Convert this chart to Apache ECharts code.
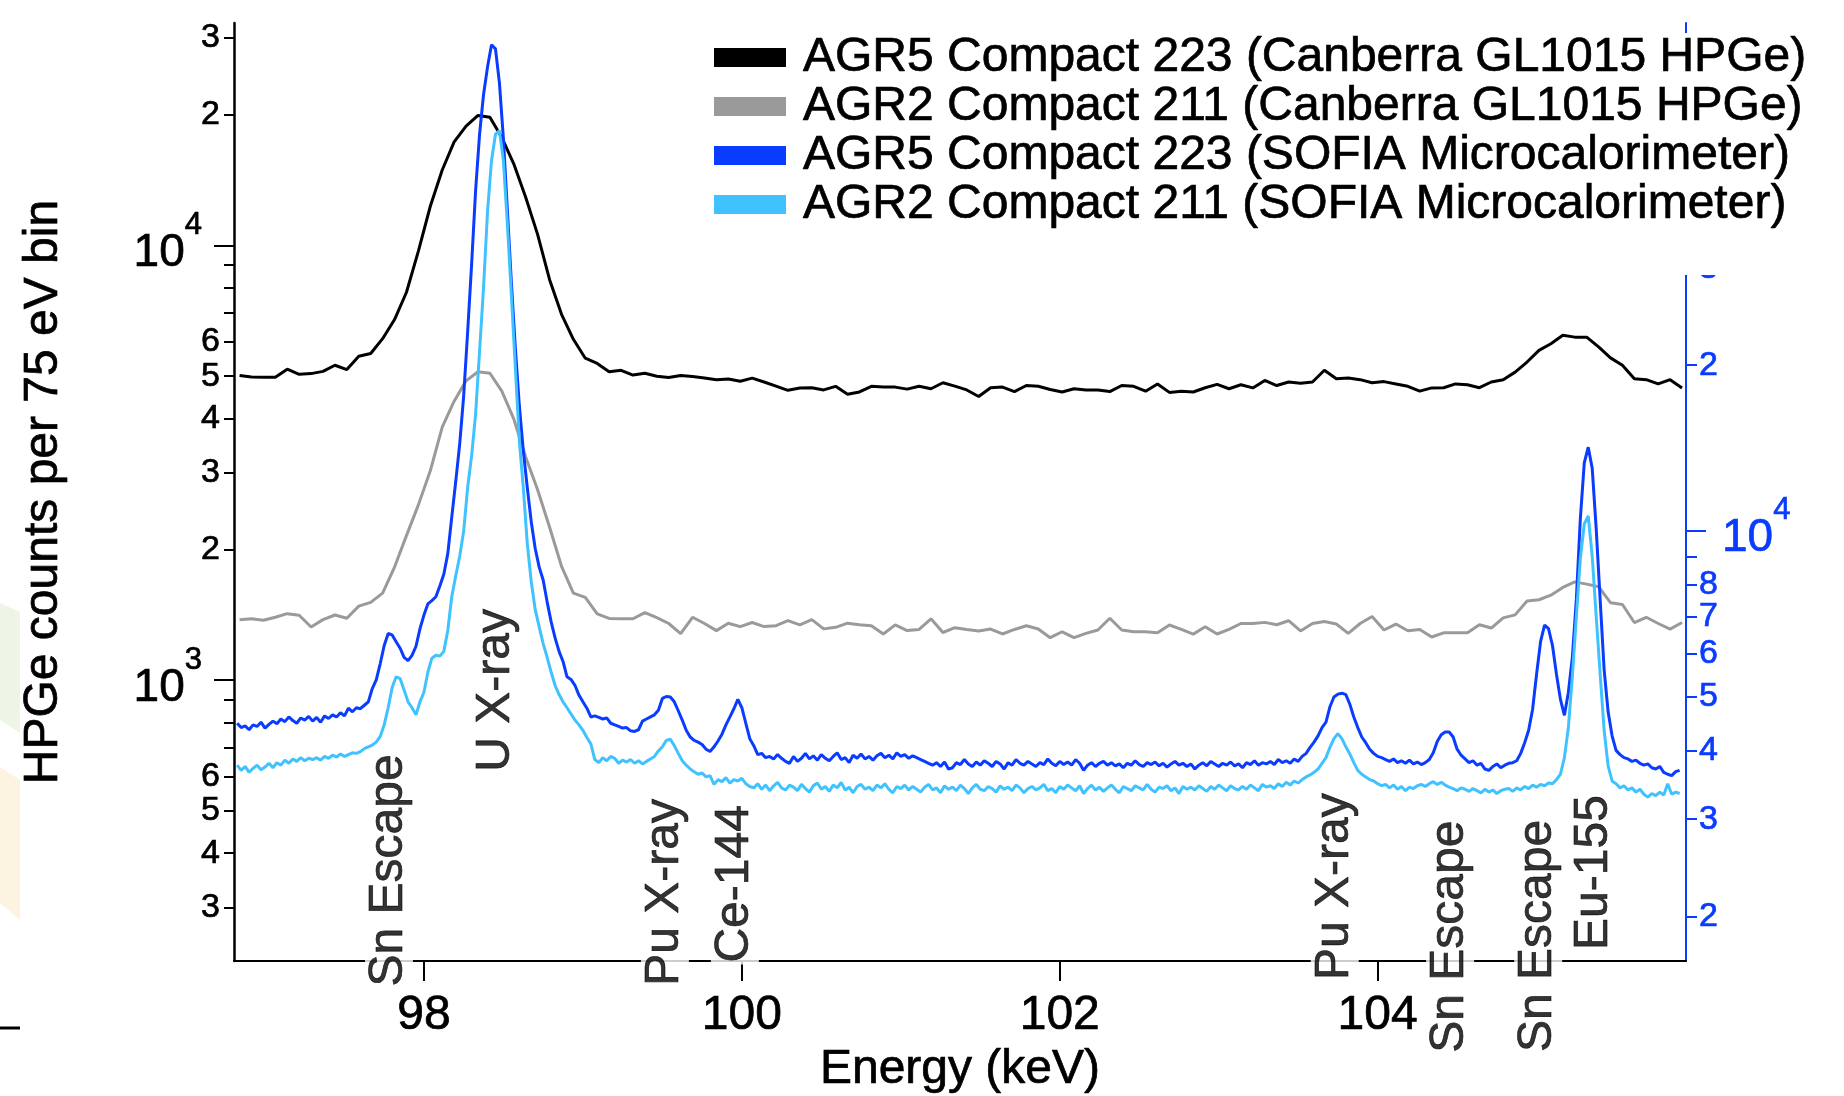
<!DOCTYPE html>
<html><head><meta charset="utf-8">
<script src="https://cdn.jsdelivr.net/npm/echarts@6/dist/echarts.min.js"></script>
<style>html,body{margin:0;padding:0;background:#fff}#c{width:1844px;height:1096px}</style>
</head><body><div id="c"></div>
<script>
const FONT = '"Liberation Sans", Arial, Helvetica, sans-serif';

// HPGe spectra: 75 eV bins
const hpgeStart = 96.84, hpgeStep = 0.075;
const agr5Hpge = [
 5020,4980,4975,4975,5190,5050,5070,5130,5300,5180,
 5560,5640,6100,6750,7800,9700,12300,14900,17300,18800,
 19900,19700,17700,15400,12900,10600,8350,6950,6080,5500,
 5350,5120,5160,5030,5080,5000,4965,5020,4990,4955,
 4910,4925,4870,4950,4850,4745,4640,4700,4705,4650,
 4740,4545,4600,4740,4720,4720,4670,4740,4680,4830,
 4745,4650,4490,4705,4720,4610,4760,4740,4660,4600,
 4680,4650,4650,4610,4760,4740,4620,4800,4590,4620,
 4600,4705,4790,4680,4780,4700,4890,4760,4850,4820,
 4850,5160,4935,4955,4910,4830,4860,4800,4740,4620,
 4700,4705,4800,4780,4705,4850,4910,5110,5390,5735,
 5940,6210,6150,6150,5840,5510,5300,4935,4910,4800,
 4910,4700];
const agr2Hpge = [
 1377,1384,1373,1395,1422,1410,1325,1378,1412,1388,
 1480,1510,1585,1820,2150,2530,3030,3820,4380,4880,
 5120,5080,4620,3990,3260,2740,2250,1830,1585,1550,
 1420,1387,1384,1384,1430,1392,1350,1280,1395,1350,
 1300,1352,1328,1357,1328,1334,1370,1340,1378,1312,
 1323,1352,1341,1334,1277,1340,1300,1308,1384,1287,
 1320,1308,1298,1311,1277,1308,1334,1311,1252,1292,
 1253,1281,1304,1388,1304,1292,1292,1285,1339,1308,
 1276,1327,1277,1308,1350,1350,1358,1341,1370,1298,
 1350,1364,1346,1281,1350,1401,1304,1346,1299,1308,
 1257,1285,1285,1285,1341,1318,1391,1413,1520,1531,
 1568,1634,1683,1663,1640,1507,1493,1357,1395,1350,
 1310,1357];

// SOFIA microcalorimeter spectra: 25 eV steps
const sofiaStart = 96.825, sofiaStep = 0.025;
const agr5Sofia = [
 4480,4400,4430,4360,4450,4420,4500,4390,4460,4520,
 4470,4560,4510,4600,4530,4480,4580,4540,4610,4520,
 4590,4500,4620,4570,4640,4600,4680,4620,4770,4700,
 4780,4760,4830,4900,5180,5370,5750,6200,6520,6480,
 6300,6130,5900,5820,5950,6180,6650,7040,7380,7480,
 7600,7950,8350,9100,10600,12300,14400,17600,23000,30500,
 41500,52500,62000,69500,76300,75000,65000,51500,38200,28300,
 21500,16900,14000,12000,10400,9300,8600,8150,7440,6850,
 6400,6050,5800,5440,5380,5250,5040,4900,4770,4600,
 4620,4590,4560,4580,4480,4450,4420,4390,4400,4340,
 4330,4360,4520,4560,4600,4640,4730,4970,5010,5000,
 4900,4720,4540,4350,4230,4170,4140,4100,4020,3980,
 4060,4160,4280,4450,4600,4760,4950,4780,4480,4200,
 4080,3930,3950,3880,3900,3860,3930,3870,3820,3790,
 3900,3820,3870,3950,3860,3910,3840,3930,3870,3830,
 3900,3960,3850,3880,3800,3920,3870,3940,3860,3900,
 3840,3910,3950,3880,3920,3860,3960,3900,3930,3870,
 3910,3880,3850,3820,3790,3760,3800,3740,3810,3700,
 3720,3800,3770,3850,3780,3740,3810,3760,3830,3790,
 3740,3820,3780,3700,3800,3760,3850,3790,3760,3820,
 3780,3740,3800,3770,3860,3790,3750,3820,3770,3810,
 3760,3850,3790,3680,3760,3800,3740,3790,3820,3760,
 3800,3750,3780,3720,3790,3760,3830,3770,3740,3800,
 3770,3810,3750,3790,3730,3780,3820,3760,3790,3740,
 3780,3700,3760,3800,3750,3820,3780,3740,3790,3760,
 3810,3750,3780,3720,3800,3770,3830,3760,3800,3780,
 3820,3770,3850,3800,3830,3790,3860,3820,3900,3950,
 4050,4140,4250,4400,4500,4800,5000,5060,5080,5050,
 4850,4600,4400,4230,4130,4020,3950,3900,3880,3850,
 3820,3860,3800,3830,3790,3840,3780,3810,3770,3800,
 3850,3960,4150,4270,4320,4320,4230,4020,3920,3860,
 3800,3830,3760,3790,3700,3680,3740,3780,3720,3760,
 3790,3800,3830,3950,4130,4350,4750,5500,6300,6750,
 6650,6200,5500,4950,4630,5100,5900,7500,10500,13300,
 14200,13000,10100,7500,5600,4700,4250,4000,3930,3880,
 3860,3820,3840,3790,3760,3780,3720,3700,3740,3650,
 3620,3600,3660,3680];
const agr2Sofia = [
 3760,3680,3740,3650,3710,3760,3690,3730,3790,3720,
 3800,3760,3840,3790,3860,3820,3880,3830,3870,3850,
 3880,3840,3900,3870,3920,3890,3940,3900,3930,3960,
 3950,3980,4030,4060,4090,4140,4240,4450,4780,5200,
 5440,5400,5150,4900,4780,4640,4900,5100,5550,5880,
 5950,5930,6050,6600,7600,8300,9000,10000,12000,13700,
 16300,21200,27700,38000,47000,52500,53300,47000,36000,26800,
 19800,14600,12000,9500,8100,7200,6700,6250,5900,5550,
 5250,5050,4900,4780,4660,4540,4450,4350,4220,4110,
 3850,3800,3880,3830,3900,3870,3790,3840,3810,3850,
 3790,3830,3780,3820,3860,3900,3990,4060,4170,4190,
 4080,3950,3830,3760,3700,3660,3620,3640,3580,3600,
 3470,3540,3510,3570,3490,3540,3520,3560,3480,3440,
 3420,3480,3400,3460,3380,3450,3500,3420,3390,3460,
 3430,3380,3470,3410,3360,3450,3490,3400,3440,3370,
 3460,3420,3500,3390,3430,3350,3440,3470,3400,3430,
 3380,3460,3420,3480,3400,3350,3440,3410,3460,3390,
 3440,3400,3360,3430,3470,3390,3420,3350,3450,3400,
 3430,3380,3460,3410,3340,3420,3470,3400,3380,3440,
 3410,3360,3450,3400,3430,3380,3460,3420,3350,3410,
 3440,3390,3420,3470,3380,3410,3350,3440,3400,3460,
 3420,3380,3450,3340,3410,3460,3390,3430,3370,3420,
 3460,3400,3350,3440,3410,3380,3450,3420,3390,3470,
 3400,3360,3430,3410,3450,3380,3420,3340,3440,3400,
 3430,3390,3450,3410,3370,3440,3400,3460,3420,3380,
 3450,3410,3390,3440,3400,3460,3420,3380,3470,3430,
 3450,3410,3480,3440,3500,3460,3520,3490,3540,3580,
 3610,3650,3700,3790,3880,4050,4200,4290,4200,4060,
 3940,3800,3680,3620,3580,3540,3520,3480,3450,3470,
 3420,3460,3400,3440,3380,3430,3410,3450,3470,3440,
 3480,3510,3470,3500,3460,3430,3410,3380,3420,3400,
 3370,3410,3380,3350,3400,3360,3390,3340,3380,3400,
 3410,3370,3420,3390,3440,3410,3460,3430,3470,3450,
 3490,3480,3540,3620,3880,4400,5450,6970,8900,10300,
 10650,9000,7000,5500,4350,3750,3520,3480,3420,3450,
 3390,3420,3360,3400,3330,3290,3340,3310,3360,3320,
 3480,3330,3360,3340];

const seriesNames = [
 'AGR5 Compact 223 (Canberra GL1015 HPGe)',
 'AGR2 Compact 211 (Canberra GL1015 HPGe)',
 'AGR5 Compact 223 (SOFIA Microcalorimeter)',
 'AGR2 Compact 211 (SOFIA Microcalorimeter)'];

// axis ticks / labels
const xTicks = [98, 100, 102, 104];
const leftMinorTicks = [300,400,500,600,700,800,900,2000,3000,4000,5000,6000,7000,8000,9000,20000,30000];
const leftMinorLabels = [300,400,500,600,2000,3000,4000,5000,6000,20000,30000];
const leftMajorTicks = [1000, 10000];
const rightMinorTicks = [2000,3000,4000,5000,6000,7000,8000,9000,20000,30000,40000,50000,60000,70000,80000];
const rightMinorLabels = [2000,3000,4000,5000,6000,7000,8000,20000,30000,40000,50000,60000,70000,80000];
const rightMajorTicks = [10000];

// peak annotations: energy (keV), anchor height (HPGe counts)
const annoNames = ['Sn Escape','U X-ray','Pu X-ray','Ce-144','Pu X-ray','Sn Escape','Sn Escape','Eu-155'];
const annoEnergy = [97.78, 98.453, 99.516, 99.956, 103.73, 104.456, 105.01, 105.358];
const annoCounts = [365, 947, 325, 340, 335, 257, 258, 361];

const BLUE = '#0a3cff', LBLUE = '#40c2ff', GRAY = '#9a9a9a';
const SW = 0.7; // slight stroke to mimic the heavier original glyphs

const pts = (start, step, arr) => arr.map((v, i) => [+(start + i * step).toFixed(4), v]);
const digit = v => String(Math.round(v / Math.pow(10, Math.floor(Math.log10(v) + 1e-9))));
const sup = v => '{a|10}{b|' + Math.round(Math.log10(v)) + '}';
const richFor = color => ({
  a: {fontSize: 46, lineHeight: 38, padding: [0,0,0,0], verticalAlign: 'bottom', fontFamily: FONT, color,
      textBorderColor: color, textBorderWidth: SW},
  b: {fontSize: 31, lineHeight: 31, padding: [0,0,35,0], verticalAlign: 'bottom', fontFamily: FONT, color,
      textBorderColor: color, textBorderWidth: SW}
});
const txt = (size, color) => ({fontSize: size, color, fontFamily: FONT, textBorderColor: color, textBorderWidth: SW});

const LMIN = 226, LMAX = 32460, RMIN = 1659, RMAX = 83560;

const yBase = (pos, min, max) => ({
  type: 'log', logBase: 10, position: pos, min, max, splitLine: {show: false},
  nameMoveOverlap: false
});

const chart = echarts.init(document.getElementById('c'), null, {renderer: 'canvas'});
chart.setOption({
  animation: false,
  backgroundColor: '#fff',
  textStyle: {fontFamily: FONT},
  grid: {left: 234, right: 158, top: 23, bottom: 135, containLabel: false, outerBoundsMode: 'none'},
  legend: {
    orient: 'vertical', left: 700, top: 33, itemWidth: 72, itemHeight: 19, itemGap: 0,
    icon: 'rect', backgroundColor: '#fff', padding: [0, 30, 46, 14], selectedMode: false,
    textStyle: Object.assign(txt(48, '#000'), {lineHeight: 49, padding: [0,0,0,12]}),
    data: seriesNames
  },
  xAxis: {
    type: 'value', min: 96.805, max: 105.94, position: 'bottom',
    name: 'Energy (keV)', nameLocation: 'middle', nameGap: 85, nameMoveOverlap: false,
    nameTextStyle: txt(48, '#000'),
    axisLine: {show: true, lineStyle: {color: '#000', width: 2}},
    axisTick: {show: true, customValues: xTicks, length: 20, lineStyle: {color: '#000', width: 2}},
    axisLabel: Object.assign({show: true, customValues: xTicks, margin: 31}, txt(48, '#000')),
    splitLine: {show: false}
  },
  yAxis: [
    Object.assign(yBase('left', LMIN, LMAX), {
      name: 'HPGe counts per 75 eV bin', nameLocation: 'middle', nameRotate: 90, nameGap: 166,
      nameTextStyle: txt(48, '#000'),
      axisLine: {show: true, lineStyle: {color: '#000', width: 2.5}},
      axisTick: {show: true, customValues: leftMinorTicks, length: 10, lineStyle: {color: '#000', width: 2}},
      axisLabel: Object.assign({show: true, customValues: leftMinorLabels, margin: 14, formatter: digit}, txt(34, '#000'))
    }),
    Object.assign(yBase('left', LMIN, LMAX), {
      axisLine: {show: false},
      axisTick: {show: true, customValues: leftMajorTicks, length: 20, lineStyle: {color: '#000', width: 2}},
      axisLabel: {show: true, customValues: leftMajorTicks, margin: 32, padding: [24, 0, 0, 0],
                  formatter: sup, rich: richFor('#000')}
    }),
    Object.assign(yBase('right', RMIN, RMAX), {
      axisLine: {show: true, lineStyle: {color: BLUE, width: 2}},
      axisTick: {show: true, customValues: rightMinorTicks, length: 11, lineStyle: {color: BLUE, width: 2}},
      axisLabel: Object.assign({show: true, customValues: rightMinorLabels, margin: 13, formatter: digit}, txt(34, BLUE))
    }),
    Object.assign(yBase('right', RMIN, RMAX), {
      axisLine: {show: false},
      axisTick: {show: true, customValues: rightMajorTicks, length: 20, lineStyle: {color: BLUE, width: 2}},
      axisLabel: {show: true, customValues: rightMajorTicks, margin: 36, padding: [22, 0, 0, 0],
                  formatter: sup, rich: richFor(BLUE)}
    })
  ],
  graphic: [
    {type: 'polygon', silent: true, z: -10, shape: {points: [[0,603],[20,612],[20,733],[0,720]]}, style: {fill: '#eef5e7'}},
    {type: 'polygon', silent: true, z: -10, shape: {points: [[0,767],[20,780],[20,920],[0,903]]}, style: {fill: '#fdf3e1'}},
    {type: 'line', silent: true, shape: {x1: 0, y1: 1028, x2: 20, y2: 1028}, style: {stroke: '#000', lineWidth: 3}}
  ],
  series: [
    {name: seriesNames[0], type: 'line', yAxisIndex: 0, data: pts(hpgeStart, hpgeStep, agr5Hpge),
     symbol: 'none', showSymbol: false, color: '#000', lineStyle: {color: '#000', width: 3}, itemStyle: {color: '#000'}, z: 2},
    {name: seriesNames[1], type: 'line', yAxisIndex: 0, data: pts(hpgeStart, hpgeStep, agr2Hpge),
     symbol: 'none', showSymbol: false, color: GRAY, lineStyle: {color: GRAY, width: 3}, itemStyle: {color: GRAY}, z: 2},
    {name: seriesNames[2], type: 'line', yAxisIndex: 2, data: pts(sofiaStart, sofiaStep, agr5Sofia),
     symbol: 'none', showSymbol: false, color: BLUE, lineStyle: {color: BLUE, width: 3}, itemStyle: {color: BLUE}, z: 3},
    {name: seriesNames[3], type: 'line', yAxisIndex: 2, data: pts(sofiaStart, sofiaStep, agr2Sofia),
     symbol: 'none', showSymbol: false, color: LBLUE, lineStyle: {color: LBLUE, width: 3}, itemStyle: {color: LBLUE}, z: 3},
    {type: 'scatter', yAxisIndex: 0, symbolSize: 0, silent: true, z: 10, clip: false,
     data: annoNames.map((n, i) => ({name: n, value: [annoEnergy[i], annoCounts[i]]})),
     label: Object.assign({show: true, formatter: '{b}', position: 'inside', rotate: 90, lineHeight: 48,
             backgroundColor: '#fff', padding: [0, 2]}, txt(48, '#000'))}
  ]
});
</script></body></html>
